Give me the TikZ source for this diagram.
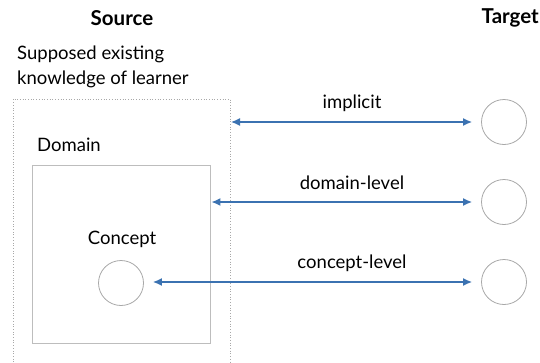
\documentclass[tikz,border=0pt]{standalone}
\usepackage{fontspec}
\setmainfont{Lato}
\usetikzlibrary{arrows.meta}
\definecolor{arrblue}{HTML}{3B72B1}
\definecolor{circgray}{HTML}{A8A8A8}
\definecolor{boxgray}{HTML}{BDBDBD}
\begin{document}
\begin{tikzpicture}[x=1pt,y=-1pt,
  lbl/.style={inner sep=0pt,font=\fontsize{18.5}{22}\selectfont},
  hdr/.style={inner sep=0pt,font=\fontsize{20.5}{24}\selectfont\bfseries},
  circ/.style={circle,draw=circgray,line width=0.8pt,minimum size=45pt,inner sep=0pt},
  link/.style={draw=arrblue,line width=1.4pt,{Latex[length=9pt,width=8pt]}-{Latex[length=9pt,width=8pt]}}]
\useasboundingbox (0,0) rectangle (540,362);
\node[hdr] (src) at (122,18) {Source};
\node[hdr,anchor=east] (tgt) at (539,18) {Target};
\node[lbl,anchor=north west,align=left,font=\fontsize{18.5}{25}\selectfont] (sup) at (17,46) {Supposed existing\\knowledge of learner};
\draw[circgray,line width=0.7pt,dotted] (13,362) -- (13,99) -- (230,99) -- (230,362);
\coordinate (know) at (231,122);
\node[lbl,anchor=west] (dom) at (37,145) {Domain};
\node[draw=boxgray,line width=0.9pt,minimum width=178pt,minimum height=178pt,inner sep=0pt] (dbox) at (121,254) {};
\node[lbl] (con) at (122,239) {Concept};
\node[circ] (cc) at (121,283) {};
\node[circ] (t1) at (504,122) {};
\node[circ] (t2) at (504,202) {};
\node[circ] (t3) at (504,282) {};
\draw[link] (know) -- ([xshift=-9pt]t1.west |- know);
\draw[link] ([xshift=1pt]dbox.east |- t2) -- ([xshift=-9pt]t2.west);
\draw[link] ([xshift=9pt]cc.east |- t3) -- ([xshift=-9pt]t3.west);
\node[lbl] (l1) at (352,103) {implicit};
\node[lbl] (l2) at (352,183) {domain-level};
\node[lbl] (l3) at (352,263) {concept-level};
\end{tikzpicture}
\end{document}
